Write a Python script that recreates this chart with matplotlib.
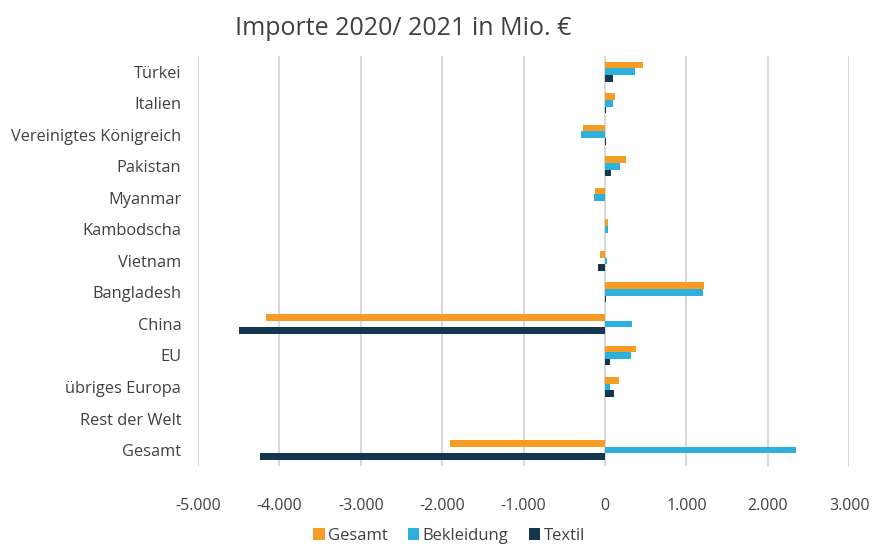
import numpy as np
import matplotlib.pyplot as plt
from matplotlib.ticker import FuncFormatter, MultipleLocator

plt.rcParams['font.family'] = ['Open Sans', 'DejaVu Sans']

laender = ['Türkei', 'Italien', 'Vereinigtes Königreich', 'Pakistan', 'Myanmar',
           'Kambodscha', 'Vietnam', 'Bangladesh', 'China', 'EU', 'übriges Europa',
           'Rest der Welt', 'Gesamt']
gesamt = [470, 125, -270, 260, -125, 35, -60, 1215, -4165, 375, 170, 0, -1905]
bekleidung = [370, 100, -295, 185, -135, 35, 25, 1200, 335, 320, 60, 0, 2345]
textil = [100, 10, 10, 70, 0, 0, -85, 10, -4500, 55, 110, 0, -4235]

farben = {'Gesamt': '#F59D22', 'Bekleidung': '#2EB0DD', 'Textil': '#14364F'}

fig = plt.figure(figsize=(8.72, 5.48), dpi=100)
ax = fig.add_axes([0.227, 0.150, 0.747, 0.748])

y = np.arange(len(laender))
h = 0.21
ax.barh(y - h, gesamt, height=h, color=farben['Gesamt'], label='Gesamt', zorder=3)
ax.barh(y, bekleidung, height=h, color=farben['Bekleidung'], label='Bekleidung', zorder=3)
ax.barh(y + h, textil, height=h, color=farben['Textil'], label='Textil', zorder=3)

ax.set_ylim(len(laender) - 0.5, -0.5)
ax.set_yticks(y)
ax.set_yticklabels(laender, fontsize=11.8, color='#404040')
ax.set_xlim(-5000, 3000)
ax.xaxis.set_major_locator(MultipleLocator(1000))
ax.xaxis.set_major_formatter(FuncFormatter(lambda v, p: f'{int(v):,}'.replace(',', '.')))
ax.tick_params(axis='x', labelsize=11.5, labelcolor='#404040', length=0, pad=23)
ax.tick_params(axis='y', length=0, pad=12)
ax.grid(axis='x', color='#D9D9D9', linewidth=1.5, zorder=0)
for s in ax.spines.values():
    s.set_visible(False)

fig.text(0.462, 0.948, 'Importe 2020/ 2021 in Mio. €', ha='center', va='center',
         fontsize=18, color='#404040')

fig.legend(loc='center', bbox_to_anchor=(0.515, 0.022), ncol=3, frameon=False,
           fontsize=12, handlelength=0.7, handleheight=0.7, handletextpad=0.2,
           columnspacing=1.2, labelcolor='#404040', borderpad=0.2)

fig.savefig('out.png', dpi=100)
